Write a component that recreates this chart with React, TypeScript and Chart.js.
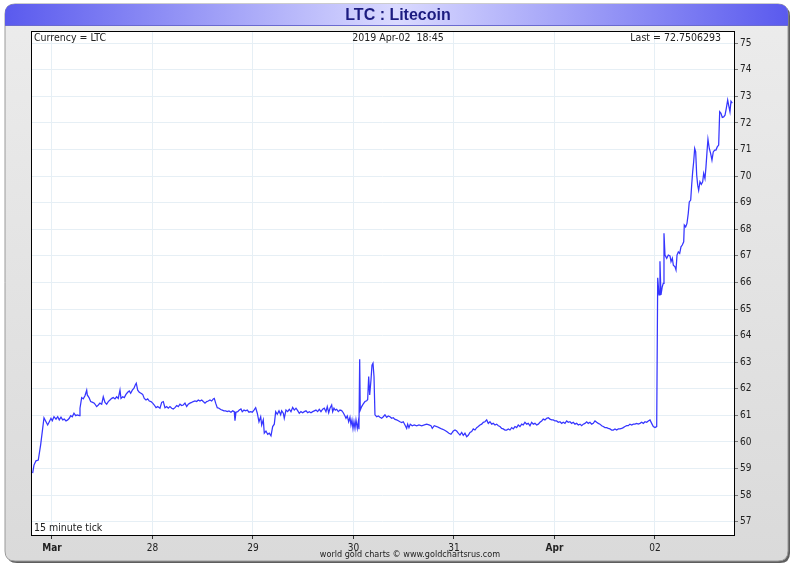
import React, { useEffect, useRef } from "react";
import { Chart, registerables } from "chart.js";

Chart.register(...registerables);

// hours since 2019-03-27 00:00 (15 minute ticks)
const tickHours: number[] = [
  -4.61,-4.30,-3.82,-3.27,-2.70,-2.22,-1.91,-1.43,-1.03,-0.64,
  -0.24,0.07,0.48,0.96,1.36,1.74,2.15,2.56,2.94,3.34,
  3.75,4.13,4.47,4.85,5.25,5.66,6.04,6.52,6.69,7.09,
  7.47,7.88,8.29,8.43,8.84,9.24,9.72,10.10,10.67,11.06,
  11.46,11.87,12.25,12.66,13.06,13.44,13.85,14.26,14.64,15.04,
  15.45,15.83,16.24,16.48,16.88,17.27,17.67,18.08,18.46,18.79,
  19.18,19.58,19.89,20.13,20.47,20.85,21.25,21.66,22.04,22.45,
  22.85,23.24,23.64,24.05,24.43,24.84,25.24,25.79,26.20,26.58,
  26.98,27.39,27.77,28.18,28.58,28.97,29.37,29.78,30.16,30.57,
  30.97,31.35,31.76,32.17,32.55,32.95,33.36,33.74,34.15,34.55,
  34.94,35.34,35.75,36.13,36.54,36.94,37.32,37.73,38.14,38.52,
  38.76,39.09,39.47,39.88,40.29,40.67,41.07,41.48,41.86,42.27,
  42.75,43.15,43.53,43.70,43.94,44.35,44.73,45.13,45.44,45.85,
  46.26,46.64,47.04,47.45,47.83,48.24,48.64,49.03,49.43,49.84,
  50.08,50.46,50.70,51.10,51.51,51.89,52.30,52.70,53.09,53.42,
  53.80,54.21,54.61,54.85,55.24,55.47,55.88,56.29,56.67,57.07,
  57.48,57.86,58.27,58.67,59.06,59.46,59.87,60.25,60.66,61.06,
  61.44,61.85,62.26,62.64,63.04,63.45,63.83,64.24,64.64,65.03,
  65.43,65.74,66.08,66.39,66.79,67.03,67.34,67.65,67.99,68.37,
  68.77,69.18,69.56,69.97,70.21,70.52,70.85,71.16,71.40,71.64,
  71.88,72.12,72.36,72.60,72.91,73.15,73.31,73.48,73.62,73.96,
  74.34,74.75,75.15,75.39,75.63,75.87,76.18,76.42,76.66,76.90,
  77.13,77.54,77.92,78.33,78.73,79.12,79.52,79.93,80.31,80.71,
  81.12,81.50,81.91,82.31,82.70,83.10,83.51,83.89,84.30,84.70,
  84.94,85.25,85.56,86.04,86.52,87.09,87.64,88.28,88.91,89.48,
  90.03,90.51,90.82,91.29,91.87,92.42,93.06,93.68,94.26,94.80,
  95.28,95.83,96.24,96.64,97.03,97.43,97.84,98.22,98.62,99.03,
  99.41,99.82,100.22,100.61,101.01,101.42,101.80,102.21,102.61,103.00,
  103.40,103.81,104.19,104.59,105.00,105.38,105.79,106.19,106.58,106.98,
  107.39,107.77,108.18,108.58,108.97,109.37,109.78,110.16,110.57,110.97,
  111.35,111.76,112.17,112.55,112.95,113.36,113.74,114.15,114.55,114.94,
  115.34,115.75,116.13,116.53,116.94,117.32,117.73,118.13,118.52,118.92,
  119.33,119.71,120.12,120.52,120.91,121.31,121.72,122.10,122.50,122.91,
  123.29,123.70,124.10,124.49,124.89,125.30,125.68,126.09,126.49,126.88,
  127.28,127.69,128.07,128.47,128.88,129.26,129.67,130.07,130.46,130.86,
  131.27,131.65,132.06,132.46,132.85,133.25,133.66,134.04,134.45,134.85,
  135.24,135.64,136.05,136.43,136.83,137.24,137.62,138.03,138.44,138.82,
  139.22,139.63,140.01,140.42,140.82,141.21,141.61,142.02,142.40,142.81,
  143.21,143.60,144.00,144.41,144.65,144.96,145.19,145.43,145.74,145.98,
  146.15,146.39,146.80,147.18,147.59,147.83,148.14,148.38,148.78,149.02,
  149.26,149.57,149.90,150.21,150.52,150.86,151.00,151.33,151.64,151.95,
  152.19,152.53,152.76,153.00,153.24,153.48,153.72,153.96,154.20,154.43,
  154.74,155.06,155.39,155.63,155.94,156.18,156.42,156.65,156.97,157.30,
  157.61,157.92,158.26,158.56,158.87,159.21,159.45,159.76,160.07,160.40,
  160.72,161.03,161.36,161.67,161.91,162.15,162.46,
];

const ltcPrices: number[] = [
  58.83,59.13,59.29,59.32,59.90,60.51,60.91,60.76,60.64,60.76,
  60.89,60.80,60.95,60.86,60.95,60.83,60.93,60.83,60.86,60.79,
  60.83,60.89,60.99,60.95,61.08,60.99,61.02,60.99,61.27,61.67,
  61.62,61.74,61.95,61.77,61.67,61.52,61.49,61.46,61.33,61.39,
  61.46,61.42,61.70,61.49,61.42,61.52,61.58,61.64,61.67,61.62,
  61.70,61.64,61.95,61.64,61.70,61.67,61.79,61.87,61.92,61.83,
  61.95,62.02,62.14,62.21,61.95,61.87,61.83,61.79,61.64,61.58,
  61.62,61.54,61.52,61.46,61.39,61.29,61.33,61.27,61.49,61.52,
  61.29,61.33,61.27,61.33,61.27,61.24,61.29,61.37,61.33,61.42,
  61.37,61.39,61.46,61.33,61.42,61.46,61.49,61.52,61.54,61.52,
  61.58,61.54,61.58,61.52,61.46,61.52,61.54,61.58,61.54,61.62,
  61.64,61.46,61.29,61.27,61.22,61.20,61.17,61.17,61.14,61.17,
  61.12,61.17,61.14,60.80,61.12,61.14,61.20,61.24,61.14,61.20,
  61.17,61.20,61.12,61.14,61.12,61.20,61.29,61.08,60.76,60.95,
  60.64,60.83,60.33,60.41,60.29,60.33,60.23,60.58,60.67,61.14,
  61.04,61.17,61.02,61.17,61.08,60.89,61.20,61.14,61.23,61.14,
  61.30,61.20,61.27,61.18,61.08,61.14,61.10,61.14,61.17,61.10,
  61.14,61.10,61.14,61.17,61.20,61.14,61.23,61.14,61.23,61.27,
  61.14,61.33,61.10,61.27,61.39,61.14,61.27,61.20,61.23,61.14,
  61.20,61.18,61.10,60.98,60.89,60.98,60.76,60.93,60.64,60.83,
  60.51,60.76,60.51,60.83,60.51,60.76,60.48,63.11,61.20,61.33,
  61.43,61.52,61.55,61.60,62.46,61.77,62.33,62.89,62.96,62.46,
  61.02,60.95,60.98,60.93,60.89,60.95,61.02,60.93,60.98,60.95,
  60.89,60.91,60.85,60.83,60.80,60.76,60.73,60.76,60.64,60.51,
  60.67,60.54,60.67,60.61,60.64,60.61,60.64,60.61,60.64,60.67,
  60.64,60.61,60.51,60.61,60.58,60.54,60.49,60.45,60.39,60.33,
  60.29,60.41,60.45,60.41,60.33,60.26,60.36,60.25,60.33,60.20,
  60.25,60.36,60.39,60.49,60.45,60.54,60.58,60.64,60.67,60.74,
  60.76,60.83,60.70,60.76,60.67,60.70,60.64,60.67,60.61,60.58,
  60.51,60.49,60.45,60.45,60.49,60.45,60.54,60.49,60.58,60.54,
  60.64,60.58,60.67,60.64,60.74,60.67,60.70,60.61,60.74,60.67,
  60.70,60.64,60.67,60.74,60.79,60.86,60.83,60.89,60.91,60.86,
  60.83,60.83,60.79,60.79,60.74,60.76,60.70,60.74,60.70,60.79,
  60.74,60.76,60.70,60.74,60.67,60.70,60.64,60.67,60.61,60.67,
  60.70,60.76,60.70,60.74,60.67,60.70,60.79,60.74,60.70,60.67,
  60.61,60.58,60.54,60.54,60.51,60.49,60.45,60.45,60.49,60.45,
  60.49,60.49,60.51,60.54,60.58,60.61,60.61,60.67,60.64,60.67,
  60.67,60.70,60.67,60.70,60.74,60.70,60.76,60.74,60.79,60.83,
  60.70,60.58,60.54,60.58,66.18,65.53,66.80,65.53,65.84,65.97,
  67.85,67.03,66.91,67.03,67.00,66.78,66.91,66.65,66.59,66.47,
  67.03,67.15,67.09,67.34,67.41,67.53,68.16,68.09,68.22,68.60,
  69.03,69.10,69.66,70.16,70.54,71.04,70.91,70.04,69.66,69.47,
  69.79,69.69,69.79,70.10,69.91,70.35,70.91,71.39,71.04,70.85,
  70.60,70.91,70.98,70.98,71.10,71.17,72.42,72.36,72.21,72.23,
  72.29,72.55,72.86,72.61,72.42,72.82,72.75,
];

// day ticks (hours since Mar 27 00:00) and their labels
const dayTickHours: number[] = [0, 24, 48, 72, 96, 120, 144];
const dayTickLabels: string[] = ["Mar", "28", "29", "30", "31", "Apr", "02"];
const boldDayLabels: string[] = ["Mar", "Apr"];
const priceTicks: number[] = [57, 58, 59, 60, 61, 62, 63, 64, 65, 66, 67, 68, 69, 70, 71, 72, 73, 74, 75];

const chartTitle = "LTC : Litecoin";
const currencyText = "Currency = LTC";
const dateText = "2019 Apr-02  18:45";
const lastText = "Last = 72.7506293";
const tickText = "15 minute tick";
const footerText = "world gold charts \u00a9 www.goldchartsrus.com";

const FONT = "'Liberation Sans Narrow', 'Arial Narrow', 'DejaVu Sans Condensed', 'Liberation Sans', sans-serif";
const TITLE_FONT = "'Liberation Sans', Arial, sans-serif";

function roundRect(ctx: CanvasRenderingContext2D, x: number, y: number, w: number, h: number, r: number) {
  ctx.beginPath();
  ctx.moveTo(x + r, y);
  ctx.lineTo(x + w - r, y);
  ctx.quadraticCurveTo(x + w, y, x + w, y + r);
  ctx.lineTo(x + w, y + h - r);
  ctx.quadraticCurveTo(x + w, y + h, x + w - r, y + h);
  ctx.lineTo(x + r, y + h);
  ctx.quadraticCurveTo(x, y + h, x, y + h - r);
  ctx.lineTo(x, y + r);
  ctx.quadraticCurveTo(x, y, x + r, y);
  ctx.closePath();
}

const framePlugin = {
  id: "frame",
  beforeDraw(chart: any) {
    const ctx: CanvasRenderingContext2D = chart.ctx;
    const W = chart.width;
    ctx.save();
    ctx.fillStyle = "#ffffff";
    ctx.fillRect(0, 0, W, chart.height);
    // shadow
    roundRect(ctx, 7, 6, 783, 557, 10);
    ctx.fillStyle = "#5e5e5e";
    ctx.fill();
    // frame
    roundRect(ctx, 5, 4, 783, 557, 10);
    const g = ctx.createLinearGradient(0, 4, 0, 561);
    g.addColorStop(0, "#ececec");
    g.addColorStop(1, "#dadada");
    ctx.fillStyle = g;
    ctx.fill();
    ctx.strokeStyle = "#9a9a9a";
    ctx.lineWidth = 1;
    ctx.stroke();
    // title bar
    ctx.save();
    roundRect(ctx, 5, 4, 783, 557, 10);
    ctx.clip();
    const tg = ctx.createLinearGradient(5, 0, 788, 0);
    tg.addColorStop(0, "#5a5aee");
    tg.addColorStop(0.5, "#dadaff");
    tg.addColorStop(1, "#5a5aee");
    ctx.fillStyle = tg;
    ctx.fillRect(5, 4, 783, 22);
    ctx.fillStyle = "#6a6ad0";
    ctx.fillRect(5, 25, 783, 1);
    ctx.restore();
    ctx.fillStyle = "#1c1c80";
    ctx.font = "bold 16px " + TITLE_FONT;
    ctx.textAlign = "center";
    ctx.textBaseline = "middle";
    ctx.fillText(chartTitle, 398, 15.5);
    // plot background
    const a = chart.chartArea;
    ctx.fillStyle = "#ffffff";
    ctx.fillRect(a.left, a.top, a.right - a.left, a.bottom - a.top);
    ctx.restore();
  },
  afterDraw(chart: any) {
    const ctx: CanvasRenderingContext2D = chart.ctx;
    const a = chart.chartArea;
    ctx.save();
    ctx.strokeStyle = "#000000";
    ctx.lineWidth = 1;
    ctx.strokeRect(Math.round(a.left) + 0.5, Math.round(a.top) + 0.5, Math.round(a.right - a.left), Math.round(a.bottom - a.top));
    ctx.fillStyle = "#222222";
    ctx.font = "10.5px " + FONT;
    ctx.textBaseline = "middle";
    ctx.textAlign = "left";
    ctx.fillText(currencyText, a.left + 3, a.top + 7);
    ctx.textAlign = "center";
    ctx.fillText(dateText, 398, a.top + 7);
    ctx.textAlign = "right";
    ctx.fillText(lastText, 721, a.top + 7);
    ctx.textAlign = "left";
    ctx.fillText(tickText, a.left + 3, a.bottom - 7);
    ctx.textAlign = "center";
    ctx.font = "9px " + FONT;
    ctx.fillText(footerText, 410, 555);
    ctx.restore();
  },
};

export default function App() {
  const ref = useRef<HTMLCanvasElement | null>(null);
  useEffect(() => {
    document.body.style.margin = "0";
    if (!ref.current) return;
    const points = tickHours.map((h, i) => ({ x: h, y: ltcPrices[i] }));
    const chart = new Chart(ref.current, {
      type: "line",
      data: {
        datasets: [
          {
            data: points,
            borderColor: "#3535ff",
            borderWidth: 1.25,
            pointRadius: 0,
            tension: 0,
            fill: false,
          },
        ],
      },
      options: {
        animation: false,
        responsive: false,
        devicePixelRatio: 1,
        parsing: false,
        layout: { padding: { left: 31, top: 31, right: 0, bottom: 0 } },
        plugins: { legend: { display: false }, tooltip: { enabled: false }, title: { display: false } },
        scales: {
          x: {
            type: "linear",
            min: -5.01,
            max: 162.87,
            afterBuildTicks: (s: any) => {
              s.ticks = dayTickHours.map((v) => ({ value: v }));
            },
            afterFit: (s: any) => {
              s.height = 38;
            },
            grid: { color: "#e6eff5", lineWidth: 1, tickLength: 4, tickColor: "#333333" },
            border: { display: true, color: "#000000" },
            ticks: {
              autoSkip: false,
              maxRotation: 0,
              padding: 3,
              color: "#222222",
              callback: (v: any) => {
                const i = dayTickHours.indexOf(Number(v));
                return i >= 0 ? dayTickLabels[i] : "";
              },
              font: (c: any) => {
                const i = c.tick ? dayTickHours.indexOf(c.tick.value) : -1;
                const lab = i >= 0 ? dayTickLabels[i] : "";
                return { family: FONT, size: 10, weight: boldDayLabels.includes(lab) ? "bold" : "normal" };
              },
            },
          },
          y: {
            type: "linear",
            position: "right",
            min: 56.5,
            max: 75.46,
            afterBuildTicks: (s: any) => {
              s.ticks = priceTicks.map((v) => ({ value: v }));
            },
            afterFit: (s: any) => {
              s.width = 66;
            },
            grid: { color: "#e6eff5", lineWidth: 1, tickLength: 4, tickColor: "#777777" },
            border: { display: true, color: "#000000" },
            ticks: {
              padding: 2,
              color: "#222222",
              font: { family: FONT, size: 10 },
              callback: (v: any) => String(v),
            },
          },
        },
      },
      plugins: [framePlugin],
    } as any);
    return () => chart.destroy();
  }, []);
  return (
    <div style={{ position: "absolute", left: 0, top: 0, width: 800, height: 573 }}>
      <canvas ref={ref} width={800} height={573} style={{ width: 800, height: 573, display: "block" }} />
    </div>
  );
}
